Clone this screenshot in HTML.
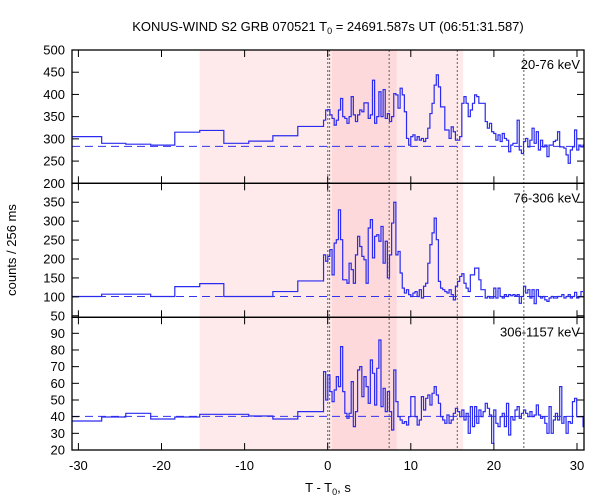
<!DOCTYPE html>
<html><head><meta charset="utf-8"><style>
body{margin:0;background:#fff;}
svg{display:block;font-family:"Liberation Sans","DejaVu Sans",sans-serif;}
</style></head><body>
<svg id="chart" width="600" height="500" viewBox="0 0 600 500"></svg>
<script>
// ---- data ----
const coarseEdges = [-33.5,-27.2,-24.3,-21.3,-18.4,-15.4,-12.5,-9.5,-6.6,-3.6,-0.5];
const fineStart = -0.5;
const fineWidth = 0.256;
const bandNames = ["20-76 keV","76-306 keV","306-1157 keV"];
const bgLevels = [283,101,40.2];
const coarse1 = [305,290,288,286,315,319,290,295,307,328];
const coarse2 = [101,107,107,101,127,135,101,101,114,142];
const coarse3 = [37.4,39.8,42,38.6,39.8,41.4,41.4,40.4,38.6,43];
const fine1 = [342,365,366,354,346,331,342,365,391,350,346,335,350,395,354,339,354,365,361,381,381,346,354,432,335,350,406,350,411,346,357,339,350,402,399,369,414,399,361,301,286,305,309,297,305,297,301,294,301,324,357,380,421,444,417,372,372,320,320,301,327,316,297,297,305,380,395,380,350,365,380,399,395,380,380,380,339,324,335,316,312,297,309,294,312,301,297,271,286,290,290,342,275,267,294,301,282,297,324,290,316,275,297,282,286,260,286,286,294,297,316,282,282,279,264,245,275,282,320,275,286,282,286];
const fine2 = [211,194,207,225,158,242,251,330,251,145,145,136,189,172,136,211,260,233,207,198,136,282,304,203,260,264,247,286,189,247,150,211,295,350,211,220,163,123,110,119,106,101,110,114,101,119,97,128,136,189,238,269,308,251,141,123,119,114,110,119,106,92,128,141,154,161,136,123,114,158,158,176,176,145,119,119,97,101,97,97,123,97,123,101,97,106,101,106,103,106,103,106,83,101,128,110,119,97,119,82,119,101,97,101,92,88,97,101,97,97,101,101,106,97,101,106,97,101,112,97,101,114];
const fine3 = [67,50,65,55,49,56,64,58,82,55,42,39,42,61,34,43,68,70,52,64,58,48,74,66,47,69,86,46,57,43,55,43,32,68,49,40,38,36,37,35,40,52,52,40,35,38,52,44,51,53,47,54,58,53,48,40,38,36,41,36,38,42,45,43,40,44,38,42,30,46,34,46,36,44,40,43,48,45,41,24,44,36,34,40,42,34,48,29,40,38,44,46,39,42,44,42,40,43,40,41,47,41,39,40,36,30,46,30,38,42,38,58,36,40,30,37,36,49,51,40,40,40,34];
const xTicks = [-30,-20,-10,0,10,20,30];
const yTicks1 = [200,250,300,350,400,450,500];
const yTicks2 = [50,100,150,200,250,300,350];
const yTicks3 = [20,30,40,50,60,70,80,90];
const shadeLight = [-15.4,16.3];
const shadeDark = [0.5,8.3];
const markerTimes = [0,0.22,7.4,15.6,23.6];

// ---- layout ----
const L=72,R=584;
const xs=t=>327.7+8.31*t;
const panels=[
 {top:50,bot:183.3,vmin:200,vmax:500,coarse:coarse1,fine:fine1,ticks:yTicks1,tickLbl:yTicks1},
 {top:183.3,bot:317.3,vmin:46,vmax:400,coarse:coarse2,fine:fine2,ticks:yTicks2,tickLbl:yTicks2},
 {top:317.3,bot:450,vmin:20,vmax:99.6,coarse:coarse3,fine:fine3,ticks:yTicks3,tickLbl:yTicks3}
];
const NS="http://www.w3.org/2000/svg";
const svg=document.getElementById('chart');
function mk(tag,attrs,parent){const e=document.createElementNS(NS,tag);for(const k in attrs)e.setAttribute(k,attrs[k]);(parent||svg).appendChild(e);return e;}
const clamp=(v,a,b)=>Math.max(a,Math.min(b,v));

// shading
let r=mk('rect',{x:xs(shadeLight[0]),y:50,width:xs(shadeLight[1])-xs(shadeLight[0]),height:400,fill:'#feeaea'});


r=mk('rect',{x:xs(shadeDark[0]),y:50,width:xs(shadeDark[1])-xs(shadeDark[0]),height:400,fill:'#fdd9db'});


markerTimes.forEach((t,i)=>{
 const l=mk('line',{x1:xs(t),x2:xs(t),y1:50,y2:450,stroke:'#777','stroke-width':1.2,'stroke-dasharray':'2,2'});
 
 
});

panels.forEach((p,pi)=>{
 const ys=v=>p.bot-(v-p.vmin)/(p.vmax-p.vmin)*(p.bot-p.top);
 const g=mk('g',{});
 
 
 // background
 const bl=mk('line',{x1:L,x2:R,y1:ys(bgLevels[pi]),y2:ys(bgLevels[pi]),stroke:'#3333ee','stroke-width':1,'stroke-dasharray':'8,5'},g);
 
 
 // step path
 let pts=[];
 p.coarse.forEach((v,i)=>{const x0=clamp(xs(coarseEdges[i]),L,R),x1=clamp(xs(coarseEdges[i+1]),L,R);pts.push([x0,ys(v)],[x1,ys(v)]);});
 p.fine.forEach((v,i)=>{const x0=clamp(xs(fineStart+i*fineWidth),L,R),x1=clamp(xs(fineStart+(i+1)*fineWidth),L,R);if(x0<R)pts.push([x0,ys(v)],[x1,ys(v)]);});
 const path=mk('path',{d:'M'+pts.map(q=>q[0].toFixed(2)+','+q[1].toFixed(2)).join('L'),fill:'none',stroke:'#2a2af0','stroke-width':1.2},g);
 
 
 // y ticks
 p.ticks.forEach(v=>{
  const y=ys(v);
  if(y>p.top+0.5&&y<p.bot-0.5){mk('line',{x1:L,x2:L+7,y1:y,y2:y,stroke:'#000'},g);mk('line',{x1:R-7,x2:R,y1:y,y2:y,stroke:'#000'},g);}
  const t=mk('text',{x:L-7,y:y+4.5,'text-anchor':'end','font-size':13,fill:'#000'},g);t.textContent=v;
  
  
 });
 xTicks.forEach(v=>{const x=xs(v);mk('line',{x1:x,x2:x,y1:p.bot,y2:p.bot-7,stroke:'#000'},g);mk('line',{x1:x,x2:x,y1:p.top,y2:p.top+7,stroke:'#000'},g);});
 const lab=mk('text',{x:R-4,y:p.top+19,'text-anchor':'end','font-size':13,fill:'#000'},g);lab.textContent=bandNames[pi];
 
 
 const fr=mk('rect',{x:L,y:p.top,width:R-L,height:p.bot-p.top,fill:'none',stroke:'#000','stroke-width':1.3},g);
 
 
});
xTicks.forEach(v=>{const t=mk('text',{x:xs(v),y:470,'text-anchor':'middle','font-size':13,fill:'#000'});t.textContent=v;
 
 });
</script>
<svg style="position:absolute;left:0;top:0" width="600" height="500">
<text x="328" y="31" text-anchor="middle" font-size="13" font-family="Liberation Sans, sans-serif">KONUS-WIND S2 GRB 070521 T<tspan font-size="9" dy="3">0</tspan><tspan dy="-3"> = 24691.587s UT (06:51:31.587)</tspan></text>
<text x="328" y="492" text-anchor="middle" font-size="13" font-family="Liberation Sans, sans-serif">T - T<tspan font-size="9" dy="3">0</tspan><tspan dy="-3">, s</tspan></text>
<text transform="translate(16,250) rotate(-90)" text-anchor="middle" font-size="13" font-family="Liberation Sans, sans-serif">counts / 256 ms</text>
</svg>
</body></html>
